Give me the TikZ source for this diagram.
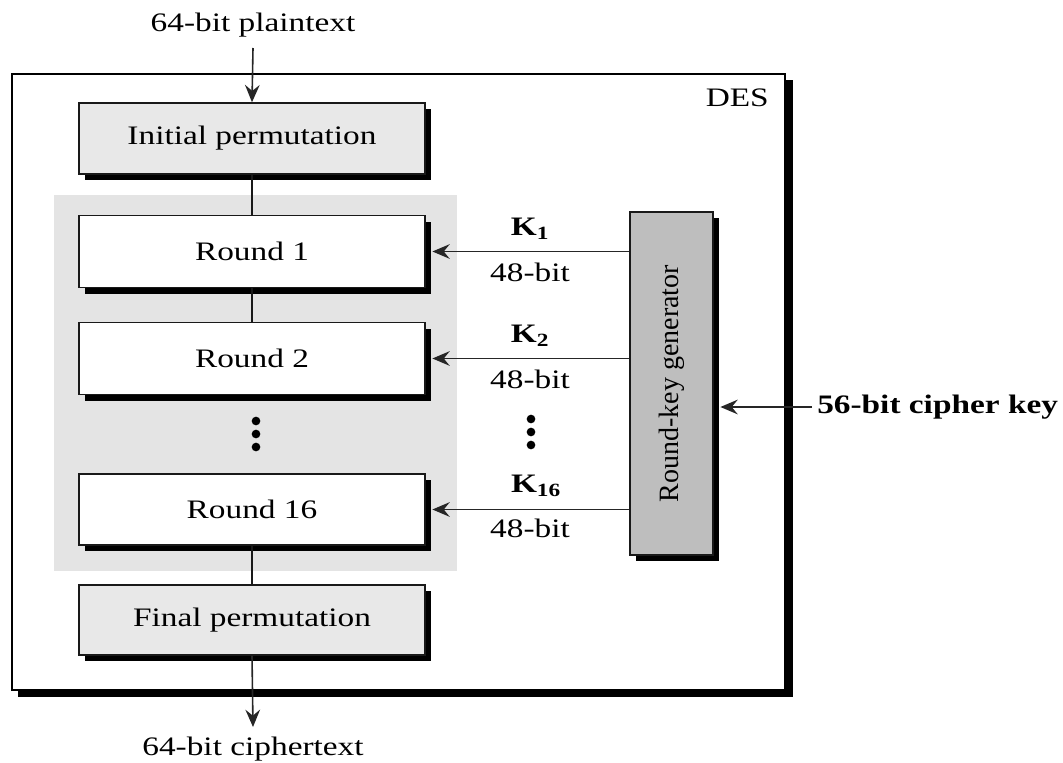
\documentclass[tikz,border=0pt]{standalone}
\usepackage{fontspec}
\setmainfont{Liberation Serif}[FakeStretch=1.25]
\newfontfamily\rotfont{Liberation Serif}
\usetikzlibrary{arrows.meta,shadows,calc}
\definecolor{bggrey}{HTML}{E4E4E4}
\definecolor{boxgrey}{HTML}{E8E8E8}
\definecolor{rkgrey}{HTML}{BEBEBE}
\tikzset{
  px/.style={x=0.75pt,y=-0.75pt},
  shbox/.style={draw=black!90, line width=1.1pt, minimum width=346*0.75pt,
    font=\fontsize{20}{22}\selectfont, inner sep=0pt,
    general shadow={fill=black, shadow xshift=4.5pt, shadow yshift=-4.5pt}},
  arr/.style={-{Stealth[length=13pt,width=11pt,inset=4.5pt]}, line width=1.2pt, draw=black!85},
  link/.style={line width=1.2pt, draw=black!90},
  lbl/.style={font=\fontsize{20}{22}\selectfont, inner sep=0pt},
  klbl/.style={font=\bfseries\fontsize{20}{22}\selectfont, inner sep=0pt},
  dot/.style={circle, fill=black, inner sep=0pt, minimum size=6.5pt}
}
\begin{document}
\begin{tikzpicture}[px]
\useasboundingbox (0,0) rectangle (1063,763);
% outer DES box
\fill[black] (18,80) rectangle (793,697);
\node[draw=black, line width=1.5pt, fill=white, minimum width=773*0.75pt, minimum height=616*0.75pt, inner sep=0pt] (des) at (398.5,382) {};
\node[lbl, anchor=north east] (deslbl) at (769,89) {DES};
% grey background
\fill[bggrey] (54,195) rectangle (457,571);
% boxes
\node[shbox, fill=boxgrey, minimum height=71*0.75pt] (ip) at (252,138.5) {Initial permutation};
\node[shbox, fill=white, minimum height=72*0.75pt] (r1) at (252,251.5) {Round 1};
\node[shbox, fill=white, minimum height=72*0.75pt] (r2) at (252,358.5) {Round 2};
\node[shbox, fill=white, minimum height=71*0.75pt] (r16) at (252,509.5) {Round 16};
\node[shbox, fill=boxgrey, minimum height=70*0.75pt] (fp) at (252,620) {Final permutation};
\node[shbox, fill=rkgrey, minimum width=83*0.75pt, minimum height=343*0.75pt] (rkg) at (671.5,383.5) {};
\node[inner sep=0pt, font=\rotfont\fontsize{21}{22}\selectfont, rotate=90] (rkglbl) at (rkg.center) {Round-key generator};
% dots
\node[dot] (d1) at (256,421) {};
\node[dot] (d2) at (256,434) {};
\node[dot] (d3) at (256,447) {};
\node[dot] (e1) at (531,419) {};
\node[dot] (e2) at (531,432) {};
\node[dot] (e3) at (531,445) {};
% links
\draw[link] (ip.south) -- (r1.north);
\draw[link] (r1.south) -- (r2.north);
\draw[link] (r16.south) -- (fp.north);
% input / output
\node[lbl] (pt) at (253,25) {64-bit plaintext};
\coordinate (ptend) at (253,48);
\draw[arr] (ptend) -- (ip.north);
\node[lbl] (ct) at (253,749) {64-bit ciphertext};
\coordinate (ctend) at (253,727);
\draw[arr] (fp.south) -- (ctend);
% key arrows
\draw[arr] (rkg.west |- r1.east) -- ([xshift=5pt]r1.east);
\draw[arr] (rkg.west |- r2.east) -- ([xshift=5pt]r2.east);
\draw[arr] (rkg.west |- r16.east) -- ([xshift=5pt]r16.east);
\node[klbl] (k1) at (530,229) {K\textsubscript{1}};
\node[lbl] (b1) at (530,272) {48-bit};
\node[klbl] (k2) at (530,336) {K\textsubscript{2}};
\node[lbl] (b2) at (530,379) {48-bit};
\node[klbl] (k16) at (536,486) {K\textsubscript{16}};
\node[lbl] (b16) at (530,528) {48-bit};
% cipher key
\node[klbl, anchor=west] (ck) at (817,407) {56-bit cipher key};
\coordinate (ckend) at (812,407);
\draw[arr] (ckend) -- ([xshift=5pt]rkg.east |- ckend);
\end{tikzpicture}
\end{document}
